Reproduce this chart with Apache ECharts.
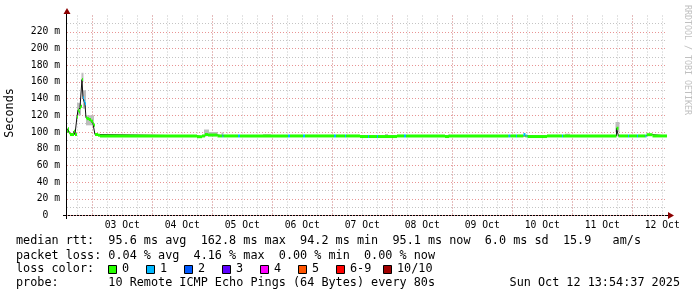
<!DOCTYPE html>
<html><head><meta charset="utf-8">
<script src="https://cdn.jsdelivr.net/npm/echarts@6/dist/echarts.min.js"></script>
<style>html,body{margin:0;padding:0;background:#fff}#c{width:697px;height:297px}</style>
</head><body><div id="c"></div>
<script>
// x values: hours since 2025-10-02 00:00
const X_MIN = 13.91, X_MAX = 253.91;
const dayLabelHours = [36, 60, 84, 108, 132, 156, 180, 204, 228, 252];
const dayLabels = ['03 Oct', '04 Oct', '05 Oct', '06 Oct', '07 Oct', '08 Oct', '09 Oct', '10 Oct', '11 Oct', '12 Oct'];
const majorGridHours = [24, 48, 72, 96, 120, 144, 168, 192, 216, 240];
const minorGridHours = [18, 24, 30, 36, 42, 48, 54, 60, 66, 72, 78, 84, 90, 96, 102, 108, 114, 120, 126, 132, 138, 144, 150, 156, 162, 168, 174, 180, 186, 192, 198, 204, 210, 216, 222, 228, 234, 240, 246, 252];
const Y_MAX = 239.6;
const majorYTicks = [0, 20, 40, 60, 80, 100, 120, 140, 160, 180, 200, 220];
const minorYTicks = [10, 30, 50, 70, 90, 110, 130, 150, 170, 190, 210, 230];

// median rtt (ms) as piecewise-constant segments: start hour, median, lost pings
const segStart = [13.91, 14.3, 14.7, 15.1, 16.7, 17.1, 17.9, 18.3, 18.7, 19.1, 19.5, 19.9, 20.3, 20.7, 21.1, 21.5, 21.9, 22.7, 23.5, 24.3, 24.7, 25.1, 26.3, 27.1,
  65.9, 67.9, 69.1, 70.3, 74.1, 76.1, 76.5, 82.3, 83.1, 102.3, 103.1, 108.3, 109.1, 120.7, 121.5, 125.1, 125.5,
  131.1, 134.3, 134.7, 137.9, 138.3, 145.9, 148.7, 149.5, 165.1, 166.7, 190.5, 191.3, 193.5, 193.9, 196.5, 197.3, 197.7, 198.1,
  205.9, 211.9, 212.3, 233.7, 234.5, 238.3, 238.7, 241.9, 242.3, 245.3, 245.7, 248.1];
const segMedian = [101, 104, 99, 97, 101, 97, 118, 126, 124, 129, 131, 162.8, 141, 137, 134, 117, 116, 115, 113, 110, 108, 97, 96.2, 95.3,
  94.4, 95.3, 97.0, 96.4, 95.3, 95.3, 95.3, 95.3, 95.3, 95.3, 95.3, 95.3, 95.3, 95.3, 95.3, 95.3, 95.3,
  94.6, 94.6, 94.6, 94.6, 94.6, 95.3, 95.3, 95.3, 94.6, 95.3, 95.3, 95.3, 95.3, 95.3, 97.0, 95.3, 95.3, 94.6,
  95.3, 95.3, 95.3, 104.5, 95.3, 95.3, 95.3, 95.3, 95.3, 95.3, 96.8, 95.3];
const segLoss = [0, 0, 0, 0, 0, 0, 0, 0, 0, 0, 0, 0, 1, 1, 1, 0, 0, 0, 0, 0, 0, 0, 0, 0,
  0, 0, 0, 0, 0, 1, 0, 1, 0, 1, 0, 1, 0, 1, 0, 1, 0,
  0, 1, 0, 1, 0, 0, 1, 0, 0, 0, 1, 0, 1, 0, 1, 0, 1, 0,
  0, 1, 0, 0, 0, 1, 0, 1, 0, 1, 0, 0];

// smoke (spread of the pings)
const smokeStart = [17.9, 19.7, 20.3, 21.5, 68.7, 70.7, 75.7, 92.3, 141.1, 166.3, 213.1, 233.3];
const smokeEnd   = [19.5, 20.5, 21.5, 24.7, 70.7, 74.1, 76.5, 95.5, 142.3, 166.9, 215.1, 234.9];
const smokeLow   = [120, 160, 128, 108, 95, 95, 95, 95, 95, 95, 95, 100];
const smokeHigh  = [135, 171, 150, 120, 103, 100, 99.5, 97.5, 97.6, 97.3, 98, 112];

const lossColors = ['#26ff00', '#00b8ff', '#0059ff', '#5e00ff', '#ff00ff', '#ff5500', '#ff0000', '#a00000'];
const lossNames = ['0', '1', '2', '3', '4', '5', '6-9', '10/10'];

const legendLine1 = 'median rtt:  95.6 ms avg  162.8 ms max  94.2 ms min  95.1 ms now  6.0 ms sd  15.9   am/s';
const legendLine2 = 'packet loss: 0.04 % avg  4.16 % max  0.00 % min  0.00 % now';
const legendLine3 = 'loss color:';
const legendLine4 = 'probe:       10 Remote ICMP Echo Pings (64 Bytes) every 80s';
const dateText = 'Sun Oct 12 13:54:37 2025';
const watermark = 'RRDTOOL / TOBI OETIKER';

const FONT = 'DejaVu Sans Mono';

const segData = segStart.map((s, i) => [s, i + 1 < segStart.length ? segStart[i + 1] : X_MAX, segMedian[i], segLoss[i]]);
const lineData = segStart.map((s, i) => [s, segMedian[i]]).concat([[X_MAX, segMedian[segMedian.length - 1]]]);
const smokeData = smokeStart.map((s, i) => [s, smokeEnd[i], smokeLow[i], smokeHigh[i]]);

const chart = echarts.init(document.getElementById('c'), null, {renderer: 'canvas'});

const legendGraphics = [];
const lx = 16;
[[legendLine1, 241], [legendLine2, 255.7], [legendLine3, 269], [legendLine4, 283]].forEach(([t, y]) => {
  legendGraphics.push({type: 'text', x: lx, y: y, style: {text: t, font: '11.8px "' + FONT + '"', fill: '#000', textVerticalAlign: 'middle'}});
});
legendGraphics.push({type: 'text', x: 680, y: 283, style: {text: dateText, font: '11.8px "' + FONT + '"', fill: '#000', textAlign: 'right', textVerticalAlign: 'middle'}});
const boxX = [108, 146, 184, 222, 260, 298, 336, 383];
lossNames.forEach((n, i) => {
  legendGraphics.push({type: 'rect', shape: {x: boxX[i] + 0.5, y: 265.5, width: 8, height: 8}, style: {fill: lossColors[i], stroke: '#000', lineWidth: 1}});
  legendGraphics.push({type: 'text', x: boxX[i] + 14, y: 269, style: {text: n, font: '11.8px "' + FONT + '"', fill: '#000', textVerticalAlign: 'middle'}});
});
legendGraphics.push({type: 'text', x: 687, y: 5, rotation: -Math.PI / 2, style: {text: watermark, font: '8.3px "' + FONT + '"', fill: '#c0c0c0', textVerticalAlign: 'middle'}});
legendGraphics.push({type: 'text', x: 10, y: 113, rotation: Math.PI / 2, style: {text: 'Seconds', font: '11.8px "' + FONT + '"', fill: '#000', textAlign: 'center', textVerticalAlign: 'middle'}});
// axis arrows
legendGraphics.push({type: 'polygon', shape: {points: [[668, 212], [674, 215.5], [668, 219]]}, style: {fill: '#8b0000'}});
legendGraphics.push({type: 'polygon', shape: {points: [[63.5, 14], [67, 8], [70.5, 14]]}, style: {fill: '#8b0000'}});
legendGraphics.push({type: 'line', shape: {x1: 63, y1: 215.5, x2: 668, y2: 215.5}, style: {stroke: '#000', lineWidth: 1}});
legendGraphics.push({type: 'line', shape: {x1: 66.5, y1: 219, x2: 66.5, y2: 14}, style: {stroke: '#000', lineWidth: 1}});

const option = {
  animation: false,
  backgroundColor: '#fff',
  textStyle: {fontFamily: FONT},
  grid: {left: 67, top: 15.5, width: 600, height: 200, containLabel: false, outerBoundsMode: 'none'},
  xAxis: [
    {type: 'value', min: X_MIN, max: X_MAX, position: 'bottom',
     axisLine: {show: false}, axisLabel: {show: false},
     axisTick: {show: false, customValues: minorGridHours},
     splitLine: {show: true, lineStyle: {color: '#c4c4c4', width: 1, type: [1, 2]}}},
    {type: 'value', min: X_MIN, max: X_MAX, position: 'bottom',
     axisLine: {show: false},
     axisTick: {show: false, customValues: majorGridHours},
     axisLabel: {show: true, customValues: dayLabelHours, margin: 5, color: '#000', fontFamily: FONT, fontSize: 9.7,
       formatter: v => { const i = dayLabelHours.indexOf(Math.round(v)); return i >= 0 ? dayLabels[i] : ''; }},
     splitLine: {show: true, lineStyle: {color: '#e89494', width: 1, type: [1, 2]}}}
  ],
  yAxis: [
    {type: 'value', min: 0, max: Y_MAX, position: 'left',
     axisLine: {show: false}, axisLabel: {show: false},
     axisTick: {show: false, customValues: minorYTicks},
     splitLine: {show: true, lineStyle: {color: '#c4c4c4', width: 1, type: [1, 2]}}},
    {type: 'value', min: 0, max: Y_MAX, position: 'left',
     axisLine: {show: false},
     axisTick: {show: false, customValues: majorYTicks},
     axisLabel: {show: true, customValues: majorYTicks, margin: 7, color: '#000', fontFamily: FONT, fontSize: 9.7,
       formatter: v => v === 0 ? '0  ' : Math.round(v) + ' m'},
     splitLine: {show: true, lineStyle: {color: '#e89494', width: 1, type: [1, 2]}}}
  ],
  series: [
    {type: 'custom', xAxisIndex: 1, yAxisIndex: 1, data: smokeData, encode: {x: [0, 1], y: [2, 3]}, silent: true, z: 1,
     renderItem: (params, api) => {
       const a = api.coord([api.value(0), api.value(3)]);
       const b = api.coord([api.value(1), api.value(2)]);
       return {type: 'rect', shape: {x: a[0], y: a[1], width: b[0] - a[0], height: b[1] - a[1]}, style: {fill: '#bdbdbd'}};
     }},
    {type: 'line', xAxisIndex: 1, yAxisIndex: 1, data: lineData, step: 'end', symbol: 'none', silent: true, z: 2,
     lineStyle: {color: '#111', width: 1}},
    {type: 'custom', xAxisIndex: 1, yAxisIndex: 1, data: segData, encode: {x: [0, 1], y: 2}, silent: true, z: 5,
     renderItem: (params, api) => {
       const a = api.coord([api.value(0), api.value(2)]);
       const b = api.coord([api.value(1), api.value(2)]);
       return {type: 'rect', shape: {x: a[0], y: a[1] - 1.5, width: b[0] - a[0], height: 3}, style: {fill: lossColors[api.value(3)]}};
     }}
  ],
  graphic: legendGraphics
};
chart.setOption(option);
</script></body></html>
